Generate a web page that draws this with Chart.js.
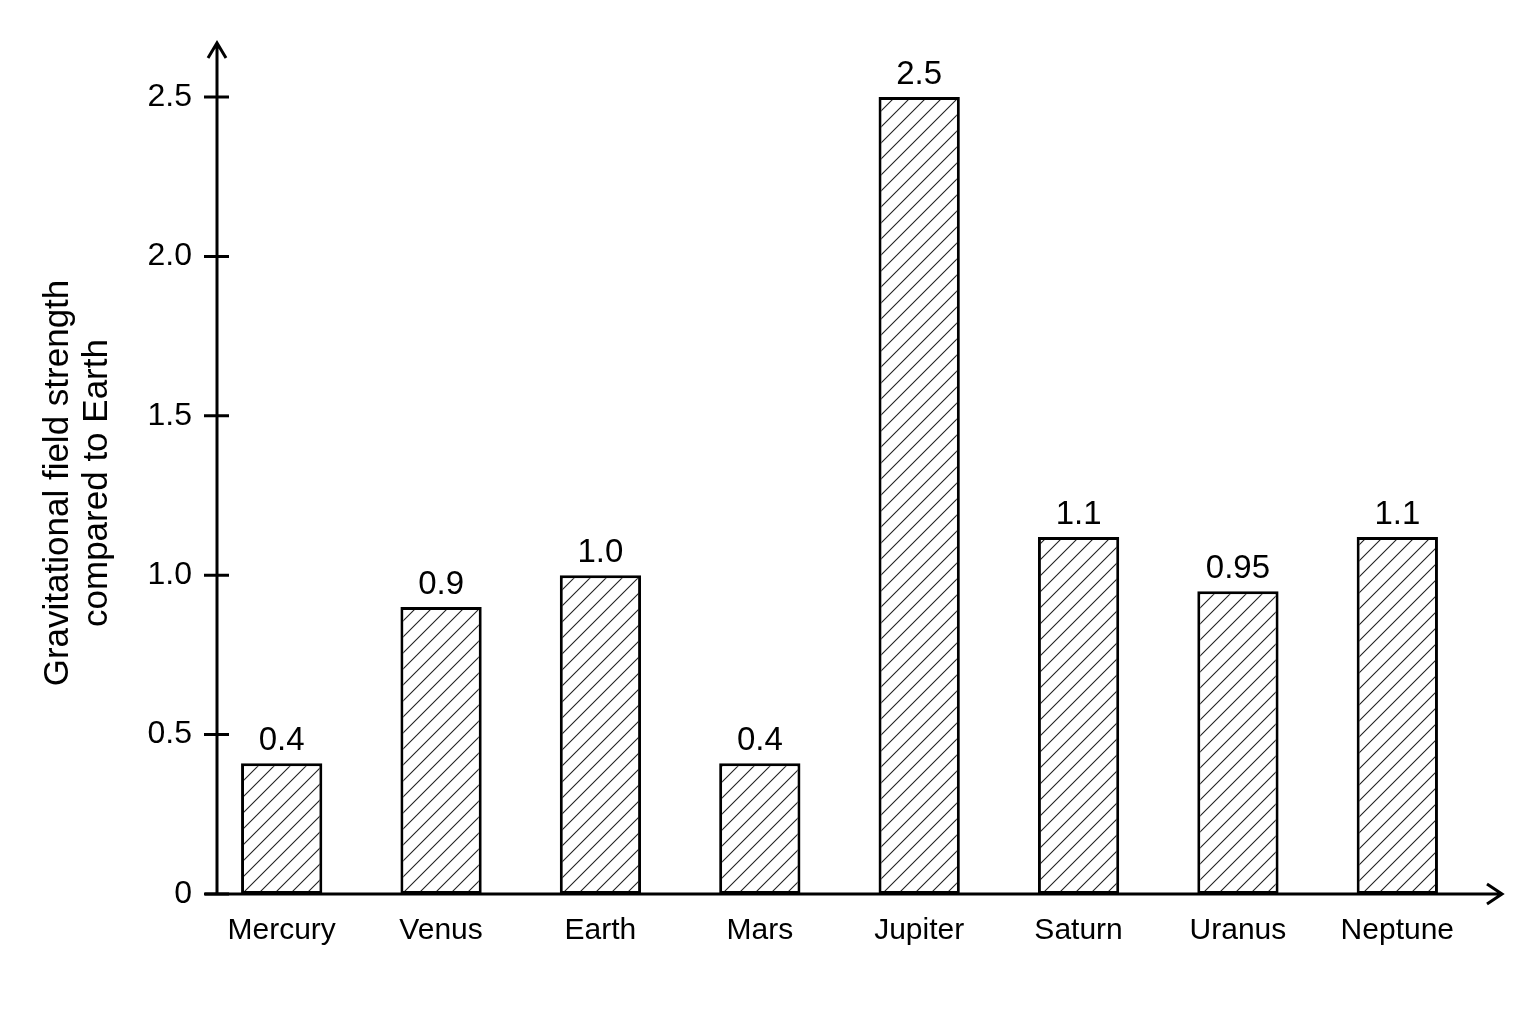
<!DOCTYPE html>
<html>
<head>
<meta charset="utf-8">
<script src="https://cdn.jsdelivr.net/npm/chart.js@4.4.1/dist/chart.umd.min.js"></script>
<style>
  html, body { margin: 0; padding: 0; background: #fff; }
  #wrap { width: 1536px; height: 1024px; }
</style>
</head>
<body>
<div id="wrap"><canvas id="grafico" width="1536" height="1024"></canvas></div>
<script>
// dados
const planetas = ['Mercury', 'Venus', 'Earth', 'Mars', 'Jupiter', 'Saturn', 'Uranus', 'Neptune'];
const gravidade = [0.41, 0.9, 1.0, 0.41, 2.5, 1.12, 0.95, 1.12];
const rotulosValor = ['0.4', '0.9', '1.0', '0.4', '2.5', '1.1', '0.95', '1.1'];
const ticksY = [0, 0.5, 1.0, 1.5, 2.0, 2.5];
const rotulosY = ['0', '0.5', '1.0', '1.5', '2.0', '2.5'];
const tituloY = ['Gravitational field strength', 'compared to Earth'];

const ctx = document.getElementById('grafico').getContext('2d');

// hachura diagonal das barras
function criarHachura() {
    const c = document.createElement('canvas');
    c.width = 16; c.height = 16;
    const g = c.getContext('2d');
    g.fillStyle = '#fff';
    g.fillRect(0, 0, 16, 16);
    g.strokeStyle = '#222';
    g.lineWidth = 1.1;
    g.beginPath();
    g.moveTo(-2, 18); g.lineTo(18, -2);
    g.moveTo(-2, 2); g.lineTo(2, -2);
    g.moveTo(14, 18); g.lineTo(18, 14);
    g.stroke();
    return ctx.createPattern(c, 'repeat');
}

// eixos com setas, marcas, rótulos de valor e título do eixo Y
const eixosPlugin = {
    id: 'eixos',
    afterDatasetsDraw(chart) {
        const { ctx, chartArea, scales } = chart;
        const x0 = chartArea.left + 15;
        const y0 = chartArea.bottom;
        ctx.save();
        ctx.strokeStyle = '#000';
        ctx.lineWidth = 3;
        ctx.lineCap = 'butt';

        // eixo Y
        ctx.beginPath();
        ctx.moveTo(x0, y0);
        ctx.lineTo(x0, 43);
        ctx.moveTo(x0 - 9, 58); ctx.lineTo(x0, 43); ctx.lineTo(x0 + 9, 58);
        // eixo X
        ctx.moveTo(205, y0);
        ctx.lineTo(1502, y0);
        ctx.moveTo(1487, y0 - 10); ctx.lineTo(1502, y0); ctx.lineTo(1487, y0 + 10);
        ctx.stroke();

        // marcas do eixo Y
        ctx.beginPath();
        ticksY.forEach(v => {
            const py = scales.y.getPixelForValue(v);
            ctx.moveTo(x0 - 13, py);
            ctx.lineTo(x0 + 12, py);
        });
        ctx.stroke();

        // rótulos acima das barras
        ctx.fillStyle = '#000';
        ctx.font = '33px "Liberation Sans", Arial, sans-serif';
        ctx.textAlign = 'center';
        ctx.textBaseline = 'alphabetic';
        chart.getDatasetMeta(0).data.forEach((bar, i) => {
            ctx.fillText(rotulosValor[i], bar.x, bar.y - 13);
        });

        // título do eixo Y
        ctx.font = '35px "Liberation Sans", Arial, sans-serif';
        ctx.textBaseline = 'middle';
        ctx.translate(58, 483);
        ctx.rotate(-Math.PI / 2);
        ctx.fillText(tituloY[0], 0, 0);
        ctx.fillText(tituloY[1], 0, 39);
        ctx.restore();
    }
};

new Chart(ctx, {
    type: 'bar',
    data: {
        labels: planetas,
        datasets: [{
            data: gravidade,
            backgroundColor: criarHachura(),
            borderColor: '#000',
            borderWidth: 3,
            borderSkipped: false,
            barPercentage: 0.51,
            categoryPercentage: 1
        }]
    },
    options: {
        responsive: false,
        devicePixelRatio: 1,
        animation: false,
        layout: { padding: { top: 97, right: 59, left: 0, bottom: 0 } },
        plugins: {
            legend: { display: false },
            tooltip: { enabled: false }
        },
        scales: {
            x: {
                offset: true,
                grid: { display: false, drawTicks: false },
                border: { display: false },
                ticks: {
                    color: '#000',
                    padding: 19,
                    font: { family: '"Liberation Sans", Arial, sans-serif', size: 30 }
                },
                afterFit: (s) => { s.height = 130; }
            },
            y: {
                min: 0,
                max: 2.5,
                grid: { display: false, drawTicks: false },
                border: { display: false },
                afterBuildTicks: (s) => { s.ticks = ticksY.map(v => ({ value: v })); },
                ticks: {
                    color: '#000',
                    padding: 10,
                    font: { family: '"Liberation Sans", Arial, sans-serif', size: 32 },
                    callback: (v, i) => rotulosY[i]
                },
                afterFit: (s) => { s.width = 202; }
            }
        }
    },
    plugins: [eixosPlugin]
});
</script>
</body>
</html>
